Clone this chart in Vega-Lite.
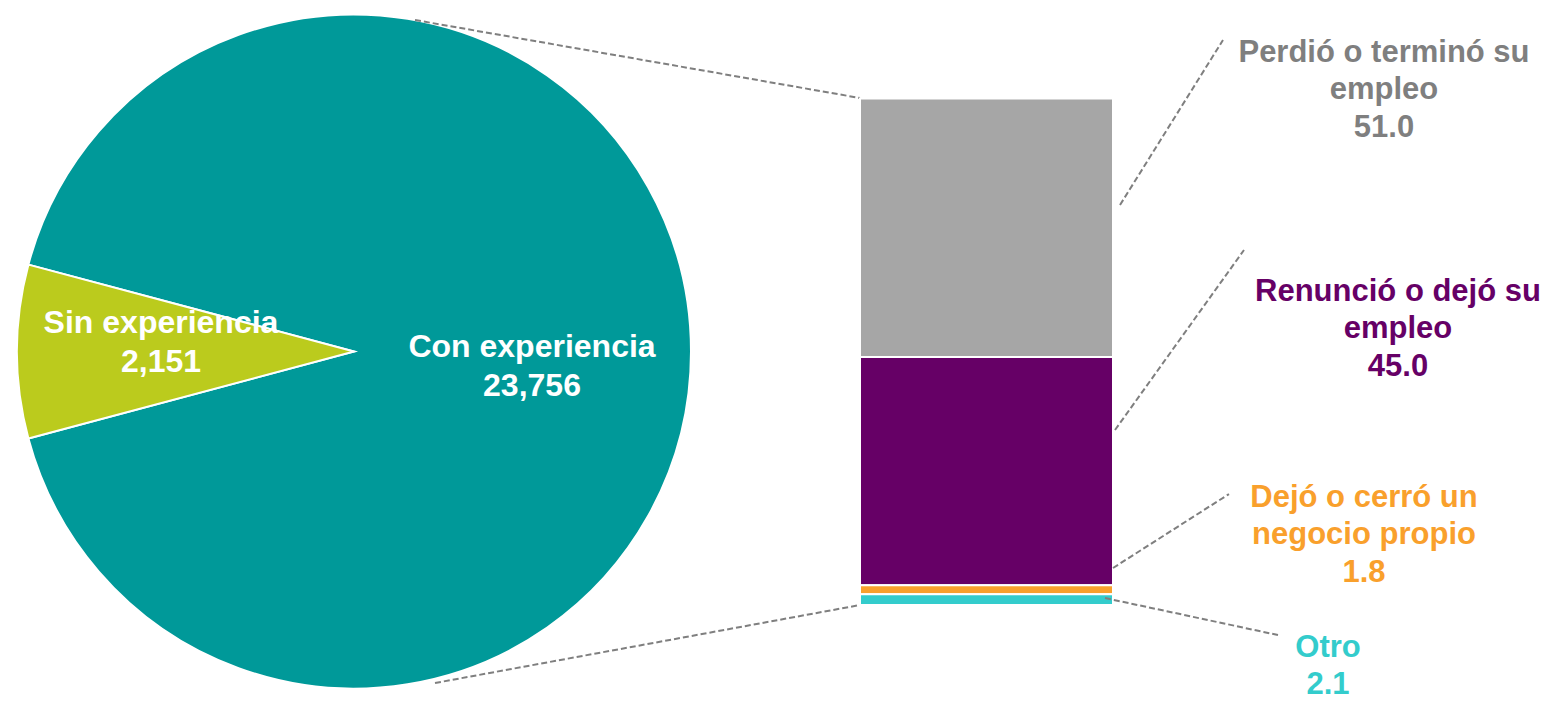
{
  "$schema": "https://vega.github.io/schema/vega-lite/v6.json",
  "width": 1548,
  "height": 701,
  "autosize": {"type": "none"},
  "padding": 0,
  "background": "white",
  "config": {"view": {"stroke": null}, "text": {"font": "Liberation Sans", "fontWeight": "bold"}},
  "datasets": {
    "pie": [
      {"categoria": "Con experiencia", "valor": 23756, "etiqueta": "Con experiencia\n23,756"},
      {"categoria": "Sin experiencia", "valor": 2151, "etiqueta": "Sin experiencia\n2,151"}
    ],
    "barra": [
      {"motivo": "Perdió o terminó su empleo", "pct": 51.0, "orden": 4, "etiqueta": "Perdió o terminó su\nempleo\n51.0"},
      {"motivo": "Renunció o dejó su empleo", "pct": 45.0, "orden": 3, "etiqueta": "Renunció o dejó su\nempleo\n45.0"},
      {"motivo": "Dejó o cerró un negocio propio", "pct": 1.8, "orden": 2, "etiqueta": "Dejó o cerró  un\nnegocio propio\n1.8"},
      {"motivo": "Otro", "pct": 2.1, "orden": 1, "etiqueta": "Otro\n2.1"}
    ]
  },
  "layer": [
    {
      "data": {"name": "pie"},
      "mark": {"type": "arc", "outerRadius": 337, "stroke": "white", "strokeWidth": 2},
      "encoding": {
        "x": {"datum": 354, "type": "quantitative", "scale": {"domain": [0, 1548], "nice": false, "zero": false}, "axis": null},
        "y": {"datum": 50, "type": "quantitative", "scale": {"domain": [-18.93, 119.33], "nice": false, "zero": false}, "axis": null},
        "theta": {"field": "valor", "type": "quantitative", "stack": true, "scale": {"range": [4.4515, 10.7347]}},
        "order": {"field": "valor", "sort": "ascending"},
        "color": {"field": "categoria", "type": "nominal", "legend": null,
          "scale": {"domain": ["Con experiencia", "Sin experiencia", "Perdió o terminó su empleo", "Renunció o dejó su empleo", "Dejó o cerró un negocio propio", "Otro"],
                    "range": ["#009999", "#BBCB1D", "#A6A6A6", "#660066", "#F9A02C", "#33CCCC"]}}
      }
    },
    {
      "data": {"values": [{}]},
      "mark": {"type": "rule", "color": "#7F7F7F", "strokeDash": [6, 3], "strokeWidth": 2},
      "encoding": {
        "x": {"datum": 415, "type": "quantitative", "scale": {"domain": [0, 1548], "nice": false, "zero": false}, "axis": null},
        "y": {"datum": 115.38, "type": "quantitative", "scale": {"domain": [-18.93, 119.33], "nice": false, "zero": false}, "axis": null},
        "x2": {"datum": 860},
        "y2": {"datum": 100}
      }
    },
    {
      "data": {"values": [{}]},
      "mark": {"type": "rule", "color": "#7F7F7F", "strokeDash": [6, 3], "strokeWidth": 2},
      "encoding": {
        "x": {"datum": 435, "type": "quantitative", "scale": {"domain": [0, 1548], "nice": false, "zero": false}, "axis": null},
        "y": {"datum": -15.38, "type": "quantitative", "scale": {"domain": [-18.93, 119.33], "nice": false, "zero": false}, "axis": null},
        "x2": {"datum": 860},
        "y2": {"datum": 0}
      }
    },
    {
      "data": {"name": "barra"},
      "transform": [{"stack": "pct", "groupby": [], "sort": [{"field": "orden", "order": "ascending"}], "as": ["y0", "y1"]}],
      "mark": {"type": "bar", "stroke": "white", "strokeWidth": 2},
      "encoding": {
        "x": {"datum": 860, "type": "quantitative", "scale": {"domain": [0, 1548], "nice": false, "zero": false}, "axis": null},
        "x2": {"datum": 1113},
        "y": {"field": "y0", "type": "quantitative", "scale": {"domain": [-18.93, 119.33], "nice": false, "zero": false}, "axis": null},
        "y2": {"field": "y1"},
        "color": {"field": "motivo", "type": "nominal", "legend": null,
          "scale": {"domain": ["Con experiencia", "Sin experiencia", "Perdió o terminó su empleo", "Renunció o dejó su empleo", "Dejó o cerró un negocio propio", "Otro"],
                    "range": ["#009999", "#BBCB1D", "#A6A6A6", "#660066", "#F9A02C", "#33CCCC"]}}
      }
    },
    {
      "data": {"name": "barra"},
      "transform": [{"filter": {"field": "motivo", "equal": "Perdió o terminó su empleo"}}],
      "mark": {"type": "rule", "color": "#7F7F7F", "strokeDash": [6, 3], "strokeWidth": 2},
      "encoding": {
        "x": {"datum": 1120, "type": "quantitative", "scale": {"domain": [0, 1548], "nice": false, "zero": false}, "axis": null},
        "y": {"datum": 78.9, "type": "quantitative", "scale": {"domain": [-18.93, 119.33], "nice": false, "zero": false}, "axis": null},
        "x2": {"datum": 1223},
        "y2": {"datum": 111.44}
      }
    },
    {
      "data": {"name": "barra"},
      "transform": [{"filter": {"field": "motivo", "equal": "Renunció o dejó su empleo"}}],
      "mark": {"type": "rule", "color": "#7F7F7F", "strokeDash": [6, 3], "strokeWidth": 2},
      "encoding": {
        "x": {"datum": 1115, "type": "quantitative", "scale": {"domain": [0, 1548], "nice": false, "zero": false}, "axis": null},
        "y": {"datum": 34.52, "type": "quantitative", "scale": {"domain": [-18.93, 119.33], "nice": false, "zero": false}, "axis": null},
        "x2": {"datum": 1244},
        "y2": {"datum": 70.02}
      }
    },
    {
      "data": {"name": "barra"},
      "transform": [{"filter": {"field": "motivo", "equal": "Dejó o cerró un negocio propio"}}],
      "mark": {"type": "rule", "color": "#7F7F7F", "strokeDash": [6, 3], "strokeWidth": 2},
      "encoding": {
        "x": {"datum": 1113, "type": "quantitative", "scale": {"domain": [0, 1548], "nice": false, "zero": false}, "axis": null},
        "y": {"datum": 7.3, "type": "quantitative", "scale": {"domain": [-18.93, 119.33], "nice": false, "zero": false}, "axis": null},
        "x2": {"datum": 1229},
        "y2": {"datum": 21.89}
      }
    },
    {
      "data": {"name": "barra"},
      "transform": [{"filter": {"field": "motivo", "equal": "Otro"}}],
      "mark": {"type": "rule", "color": "#7F7F7F", "strokeDash": [6, 3], "strokeWidth": 2},
      "encoding": {
        "x": {"datum": 1105, "type": "quantitative", "scale": {"domain": [0, 1548], "nice": false, "zero": false}, "axis": null},
        "y": {"datum": 1.38, "type": "quantitative", "scale": {"domain": [-18.93, 119.33], "nice": false, "zero": false}, "axis": null},
        "x2": {"datum": 1278},
        "y2": {"datum": -5.92}
      }
    },
    {
      "data": {"name": "pie"},
      "transform": [{"filter": {"field": "categoria", "equal": "Sin experiencia"}}],
      "mark": {"type": "text", "fontSize": 32, "lineBreak": "\n", "lineHeight": 39, "color": "white", "align": "center", "baseline": "middle"},
      "encoding": {
        "x": {"datum": 161, "type": "quantitative", "scale": {"domain": [0, 1548], "nice": false, "zero": false}, "axis": null},
        "y": {"datum": 55.62, "type": "quantitative", "scale": {"domain": [-18.93, 119.33], "nice": false, "zero": false}, "axis": null},
        "text": {"field": "etiqueta"}
      }
    },
    {
      "data": {"name": "pie"},
      "transform": [{"filter": {"field": "categoria", "equal": "Con experiencia"}}],
      "mark": {"type": "text", "fontSize": 32, "lineBreak": "\n", "lineHeight": 39, "color": "white", "align": "center", "baseline": "middle"},
      "encoding": {
        "x": {"datum": 532, "type": "quantitative", "scale": {"domain": [0, 1548], "nice": false, "zero": false}, "axis": null},
        "y": {"datum": 50.89, "type": "quantitative", "scale": {"domain": [-18.93, 119.33], "nice": false, "zero": false}, "axis": null},
        "text": {"field": "etiqueta"}
      }
    },
    {
      "data": {"name": "barra"},
      "transform": [{"filter": {"field": "motivo", "equal": "Perdió o terminó su empleo"}}],
      "mark": {"type": "text", "fontSize": 31, "lineBreak": "\n", "lineHeight": 37.5, "color": "#7F7F7F", "align": "center", "baseline": "middle"},
      "encoding": {
        "x": {"datum": 1384, "type": "quantitative", "scale": {"domain": [0, 1548], "nice": false, "zero": false}, "axis": null},
        "y": {"datum": 108.88, "type": "quantitative", "scale": {"domain": [-18.93, 119.33], "nice": false, "zero": false}, "axis": null},
        "text": {"field": "etiqueta"}
      }
    },
    {
      "data": {"name": "barra"},
      "transform": [{"filter": {"field": "motivo", "equal": "Renunció o dejó su empleo"}}],
      "mark": {"type": "text", "fontSize": 31, "lineBreak": "\n", "lineHeight": 37.5, "color": "#660066", "align": "center", "baseline": "middle"},
      "encoding": {
        "x": {"datum": 1398, "type": "quantitative", "scale": {"domain": [0, 1548], "nice": false, "zero": false}, "axis": null},
        "y": {"datum": 61.74, "type": "quantitative", "scale": {"domain": [-18.93, 119.33], "nice": false, "zero": false}, "axis": null},
        "text": {"field": "etiqueta"}
      }
    },
    {
      "data": {"name": "barra"},
      "transform": [{"filter": {"field": "motivo", "equal": "Dejó o cerró un negocio propio"}}],
      "mark": {"type": "text", "fontSize": 31, "lineBreak": "\n", "lineHeight": 37.5, "color": "#F9A02C", "align": "center", "baseline": "middle"},
      "encoding": {
        "x": {"datum": 1364, "type": "quantitative", "scale": {"domain": [0, 1548], "nice": false, "zero": false}, "axis": null},
        "y": {"datum": 21.11, "type": "quantitative", "scale": {"domain": [-18.93, 119.33], "nice": false, "zero": false}, "axis": null},
        "text": {"field": "etiqueta"}
      }
    },
    {
      "data": {"name": "barra"},
      "transform": [{"filter": {"field": "motivo", "equal": "Otro"}}],
      "mark": {"type": "text", "fontSize": 31, "lineBreak": "\n", "lineHeight": 37, "color": "#33CCCC", "align": "center", "baseline": "middle"},
      "encoding": {
        "x": {"datum": 1328, "type": "quantitative", "scale": {"domain": [0, 1548], "nice": false, "zero": false}, "axis": null},
        "y": {"datum": -8.4, "type": "quantitative", "scale": {"domain": [-18.93, 119.33], "nice": false, "zero": false}, "axis": null},
        "text": {"field": "etiqueta"}
      }
    }
  ]
}
